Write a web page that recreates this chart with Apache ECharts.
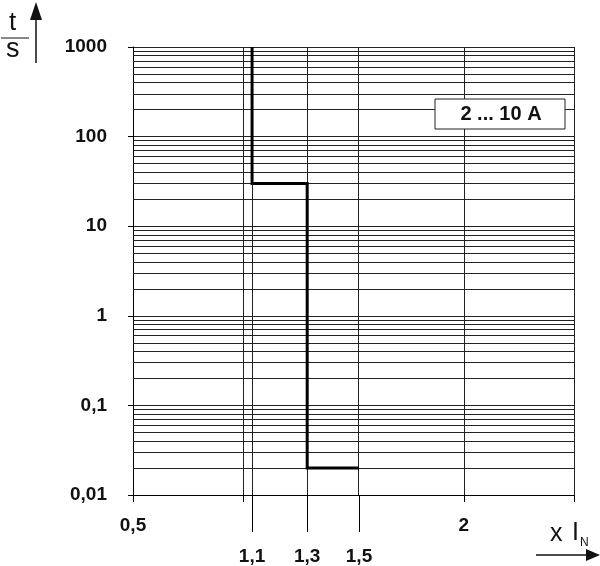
<!DOCTYPE html>
<html>
<head>
<meta charset="utf-8">
<script src="https://cdn.jsdelivr.net/npm/echarts@6/dist/echarts.min.js"></script>
<style>
html,body{margin:0;padding:0;background:#fff;}
#chart{width:600px;height:566px;}
</style>
</head>
<body>
<div id="chart"></div>
<script>
// ---- data ----
const yMajor = [0.01, 0.1, 1, 10, 100, 1000];
const yLabels = ['0,01', '0,1', '1', '10', '100', '1000'];
const yMinorFactors = [2, 3, 4, 5, 6, 7, 8, 9];
const xGridValues = [1, 2, 2.5];
const xTickValues = [0.5, 1, 2, 2.5];
const xLabelValues = [0.5, 2];
const xLabelTexts = ['0,5', '2'];
const markerX = [1.04, 1.29, 1.525];
const markerLabels = ['1,1', '1,3', '1,5'];
const curveX = [1.04, 1.04, 1.29, 1.29, 1.525];
const curveY = [1000, 30, 30, 0.02, 0.02];
const rangeText = '2 ... 10 A';

// ---- build ----
const minorVals = [];
for (let i = 0; i < yMajor.length - 1; i++) {
  yMinorFactors.forEach(f => minorVals.push(+(f * yMajor[i]).toPrecision(6)));
}
const curve = curveX.map((x, i) => [x, curveY[i]]);
const FONT = 'Liberation Sans, Arial, Helvetica, sans-serif';
const lblStyle = {fontFamily: FONT, fontWeight: 'bold', fontSize: 19, color: '#111'};

function yFmt(v) {
  for (let i = 0; i < yMajor.length; i++) {
    if (Math.abs(Math.log10(v) - Math.log10(yMajor[i])) < 1e-6) return yLabels[i];
  }
  return '';
}
function lookup(vals, texts) {
  return function (v) {
    for (let i = 0; i < vals.length; i++) if (Math.abs(v - vals[i]) < 1e-6) return texts[i];
    return '';
  };
}

const gridLine = {color: '#222', width: 1, type: 'solid'};
const markData = [];
minorVals.forEach(v => markData.push({yAxis: v}));
xGridValues.forEach(v => markData.push({xAxis: v}));
markerX.forEach(v => markData.push({xAxis: v}));

const chart = echarts.init(document.getElementById('chart'));
chart.setOption({
  animation: false,
  backgroundColor: '#fff',
  grid: {left: 133, right: 26, top: 47, bottom: 71, containLabel: false},
  xAxis: [
    {
      type: 'value', min: 0.5, max: 2.5, interval: 0.5,
      axisLine: {show: true, lineStyle: {color: '#000', width: 1}},
      axisTick: {show: true, customValues: xTickValues, length: 7, lineStyle: {color: '#000'}},
      axisLabel: Object.assign({customValues: xLabelValues, formatter: lookup(xLabelValues, xLabelTexts), margin: 21}, lblStyle),
      splitLine: {show: false}
    },
    {
      type: 'value', min: 0.5, max: 2.5, position: 'bottom', offset: 0,
      axisLine: {show: false},
      axisTick: {show: true, customValues: markerX, length: 37, lineStyle: {color: '#000'}},
      axisLabel: Object.assign({customValues: markerX, formatter: lookup(markerX, markerLabels), margin: 52}, lblStyle),
      splitLine: {show: false}
    }
  ],
  yAxis: {
    type: 'log', logBase: 10, min: 0.01, max: 1000,
    axisLine: {show: true, lineStyle: {color: '#000', width: 1}},
    axisTick: {show: true, length: 5, lineStyle: {color: '#000'}},
    axisLabel: Object.assign({formatter: yFmt, margin: 26}, lblStyle),
    splitLine: {show: true, lineStyle: gridLine},
    minorTick: {show: false},
    minorSplitLine: {show: false}
  },
  series: [{
    type: 'line',
    xAxisIndex: 0, yAxisIndex: 0,
    data: curve,
    symbol: 'none',
    lineStyle: {color: '#000', width: 3, join: 'miter'},
    z: 5,
    markLine: {
      silent: true, symbol: 'none', label: {show: false},
      lineStyle: gridLine, emphasis: {disabled: true},
      data: markData, z: 1
    }
  }],
  graphic: [
    {type: 'text', left: 9, top: 10, style: {text: 't', font: '26px ' + FONT, fill: '#111'}},
    {type: 'line', shape: {x1: 1, y1: 38, x2: 29, y2: 38}, style: {stroke: '#111', lineWidth: 1}},
    {type: 'text', left: 6, top: 36, style: {text: 's', font: '27px ' + FONT, fill: '#111'}},
    {type: 'line', shape: {x1: 36, y1: 63, x2: 36, y2: 14}, style: {stroke: '#111', lineWidth: 1.5}},
    {type: 'polygon', shape: {points: [[30, 20], [42, 20], [36, 2]]}, style: {fill: '#111'}},
    {type: 'text', left: 550, top: 522, style: {text: 'x', font: '25px ' + FONT, fill: '#111'}},
    {type: 'text', left: 572, top: 521, style: {text: 'I', font: '25px ' + FONT, fill: '#111'}},
    {type: 'text', left: 580, top: 537, style: {text: 'N', font: '12px ' + FONT, fill: '#111'}},
    {type: 'line', shape: {x1: 536, y1: 555, x2: 590, y2: 555}, style: {stroke: '#111', lineWidth: 1.5}},
    {type: 'polygon', shape: {points: [[586, 549], [586, 561], [600, 555]]}, style: {fill: '#111'}},
    {type: 'rect', z: 10, shape: {x: 435, y: 99, width: 130, height: 30}, style: {fill: '#fff', stroke: '#222', lineWidth: 1}},
    {type: 'text', z: 11, x: 501, y: 114, style: {text: rangeText, font: 'bold 20px ' + FONT, fill: '#111', align: 'center', verticalAlign: 'middle'}}
  ]
});
</script>
</body>
</html>
